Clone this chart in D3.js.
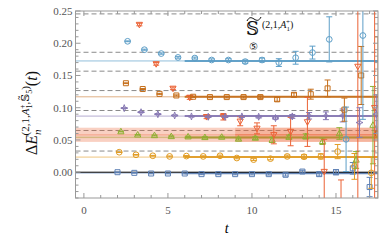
<!DOCTYPE html>
<meta charset="utf-8">
<head>
<style>
  body { margin: 0; background: #fff; }
  svg text { font-family: "Liberation Serif", "DejaVu Serif", serif; }
  .tick-label { fill: #555; font-size: 11px; }
</style>
</head>
<body>
<script src="https://d3js.org/d3.v7.min.js"></script>
<script>
// time slices (same for every series, each series gets a small horizontal offset)
var tSteps = [2, 3, 4, 5, 6, 7, 8, 9, 10, 11, 12, 13, 14, 15, 16, 17];

// level 0 : blue squares
var lvl0 = [0.000, -0.001, -0.002, -0.002, -0.002, -0.003, -0.003, -0.003, -0.003, -0.003, -0.004, 0.001, -0.003, 0.000, 0.006, -0.023];
var lvl0Err = [0.0003, 0.0004, 0.0005, 0.0006, 0.0007, 0.0008, 0.0009, 0.001, 0.0012, 0.0014, 0.002, 0.002, 0.003, 0.004, 0.009, 0.015];
// level 1 : orange circles
var lvl1 = [0.031, 0.027, 0.0255, 0.0245, 0.025, 0.0245, 0.0255, 0.022, 0.0195, 0.021, 0.0245, 0.024, 0.0245, 0.032, 0.009, -0.001];
var lvl1Err = [0.0004, 0.0005, 0.0006, 0.0007, 0.0008, 0.0009, 0.001, 0.0012, 0.0015, 0.0018, 0.002, 0.003, 0.004, 0.011, 0.02, 0.024];
// level 2 : green triangles
var lvl2 = [0.063, 0.058, 0.057, 0.0555, 0.055, 0.054, 0.0545, 0.0515, 0.053, 0.050, 0.0545, 0.0555, 0.048, 0.060, 0.019, 0.073];
var lvl2Err = [0.0005, 0.0006, 0.0007, 0.0008, 0.0009, 0.001, 0.0012, 0.0015, 0.002, 0.004, 0.003, 0.004, 0.005, 0.009, 0.013, 0.06];
// level 3 : red down-triangles (t = 2 is off the plot)
var lvl3 = [null, 0.229, 0.168, 0.130, 0.116, 0.086, 0.086, 0.079, 0.068, 0.058, 0.063, 0.078, 0.001, -0.060, 0.164, 0.100];
var lvl3Err = [null, 0.002, 0.002, 0.002, 0.003, 0.003, 0.005, 0.007, 0.0085, 0.014, 0.022, 0.038, 0.05, 0.048, 0.3, 0.3];
// level 4 : purple stars
var lvl4 = [0.0994, 0.093, 0.090, 0.088, 0.0865, 0.086, 0.086, 0.0865, 0.086, 0.084, 0.0865, 0.0875, 0.0875, 0.088, 0.077, 0.09];
var lvl4Err = [0.0005, 0.0006, 0.0007, 0.0008, 0.0009, 0.001, 0.0012, 0.0015, 0.002, 0.002, 0.003, 0.005, 0.006, 0.01, 0.023, 0.03];
// level 5 : dark orange squares
var lvl5 = [0.138, 0.129, 0.1215, 0.119, 0.117, 0.1165, 0.1165, 0.1165, 0.1165, 0.113, 0.120, 0.121, 0.130, 0.097, 0.150, 0.06];
var lvl5Err = [0.0006, 0.0007, 0.0008, 0.0009, 0.001, 0.0012, 0.0014, 0.0016, 0.002, 0.003, 0.003, 0.0077, 0.013, 0.018, 0.045, 0.15];
// level 6 : light blue circles (t = 17 falls outside the frame)
var lvl6 = [0.203, 0.190, 0.184, 0.178, 0.177, 0.174, 0.174, 0.1715, 0.174, 0.170, 0.1775, 0.1855, 0.206, 0.051, 0.212, null];
var lvl6Err = [0.0006, 0.0008, 0.001, 0.0012, 0.0015, 0.0018, 0.002, 0.0025, 0.003, 0.006, 0.01, 0.01, 0.035, 0.05, 0.13, null];

var levels = [lvl0, lvl1, lvl2, lvl3, lvl4, lvl5, lvl6];
var levelErrs = [lvl0Err, lvl1Err, lvl2Err, lvl3Err, lvl4Err, lvl5Err, lvl6Err];

// fitted energies
var fitCenter = [-0.0015, 0.0235, 0.054, 0.058, 0.087, 0.117, 0.1725];
var fitError = [0.0008, 0.001, 0.0015, 0.011, 0.0012, 0.0012, 0.0015];
var fitStart = [6, 6, 6, 9, 6, 6, 6];

// non-interacting levels (dashed)
var dashedLevels = [0.0328, 0.0647, 0.0957, 0.1266, 0.1567, 0.186, 0.2455];

var colors = ["#5E81B5", "#E19C24", "#8FB032", "#EB6235", "#8778B3", "#C56E1A", "#5D9EC7"];
var shapes = ["square", "circle", "triangle", "triangleDown", "star4", "square", "circle"];

var xTicks = [0, 5, 10, 15];
var yTicks = [0.00, 0.05, 0.10, 0.15, 0.20, 0.25];

var W = 390, H = 248;
var plot = { left: 75.5, right: 378, top: 11, bottom: 198 };

var x = d3.scaleLinear().domain([-0.5, 17.5]).range([plot.left, plot.right]);
var y = d3.scaleLinear().domain([-0.04, 0.25]).range([plot.bottom, plot.top]);

var svg = d3.select("body").append("svg")
    .attr("width", W)
    .attr("height", H);

svg.append("clipPath").attr("id", "clip")
  .append("rect")
    .attr("x", plot.left).attr("y", plot.top)
    .attr("width", plot.right - plot.left)
    .attr("height", plot.bottom - plot.top);

var g = svg.append("g").attr("clip-path", "url(#clip)");

// dashed reference levels
g.selectAll(".dash")
  .data(dashedLevels)
  .enter().append("line")
    .attr("x1", plot.left).attr("x2", plot.right)
    .attr("y1", function (d) { return y(d); })
    .attr("y2", function (d) { return y(d); })
    .attr("stroke", "#8a8a8a")
    .attr("stroke-width", 1)
    .attr("stroke-dasharray", "5,3");

// fit bands: faint over the whole range, stronger over the fit window
fitCenter.forEach(function (c, i) {
    var col = colors[i];
    var e = fitError[i];
    var x0 = x(fitStart[i]);
    g.append("rect")
        .attr("x", plot.left).attr("width", plot.right - plot.left)
        .attr("y", y(c + e)).attr("height", y(c - e) - y(c + e))
        .attr("fill", col).attr("opacity", i === 3 ? 0.3 : 0.15);
    g.append("line")
        .attr("x1", plot.left).attr("x2", plot.right)
        .attr("y1", y(c)).attr("y2", y(c))
        .attr("stroke", col).attr("stroke-width", 1.2).attr("opacity", 0.35);
    g.append("rect")
        .attr("x", x0).attr("width", plot.right - x0)
        .attr("y", y(c + e)).attr("height", y(c - e) - y(c + e))
        .attr("fill", col).attr("opacity", i === 3 ? 0.25 : 0.3);
    g.append("line")
        .attr("x1", x0).attr("x2", plot.right)
        .attr("y1", y(c)).attr("y2", y(c))
        .attr("stroke", col).attr("stroke-width", i === 3 ? 1 : 2)
        .attr("opacity", i === 3 ? 0.5 : 0.9);
});

// zero line
g.append("line")
    .attr("x1", plot.left).attr("x2", plot.right)
    .attr("y1", y(0)).attr("y2", y(0))
    .attr("stroke", "#000").attr("stroke-width", 1);

function markerPath(shape) {
    if (shape === "square") return "M-2.5,-2.5H2.5V2.5H-2.5Z";
    if (shape === "circle") return d3.symbol(d3.symbolCircle, 26)();
    if (shape === "triangle") return "M0,-3.3L3.1,2.2H-3.1Z";
    if (shape === "triangleDown") return "M0,3.3L3.1,-2.2H-3.1Z";
    // four pointed star
    return "M0,-3.5L0.9,-0.9L3.5,0L0.9,0.9L0,3.5L-0.9,0.9L-3.5,0L-0.9,-0.9Z";
}

// data points with error bars
levels.forEach(function (vals, i) {
    var pts = tSteps.map(function (t, k) {
        return { t: t + 0.1 * i, v: vals[k], e: levelErrs[i][k] };
    }).filter(function (d) { return d.v !== null; });

    var sg = g.append("g")
        .attr("stroke", colors[i])
        .attr("fill", "none")
        .attr("stroke-width", 1);

    var p = sg.selectAll("g").data(pts).enter().append("g");

    p.append("path")
        .attr("d", markerPath(shapes[i]))
        .attr("transform", function (d) { return "translate(" + x(d.t) + "," + y(d.v) + ")"; });
    p.append("line")
        .attr("x1", function (d) { return x(d.t); })
        .attr("x2", function (d) { return x(d.t); })
        .attr("y1", function (d) { return y(d.v + d.e); })
        .attr("y2", function (d) { return y(d.v - d.e); });
    p.append("line")
        .attr("x1", function (d) { return x(d.t) - 3; })
        .attr("x2", function (d) { return x(d.t) + 3; })
        .attr("y1", function (d) { return y(d.v + d.e); })
        .attr("y2", function (d) { return y(d.v + d.e); });
    p.append("line")
        .attr("x1", function (d) { return x(d.t) - 3; })
        .attr("x2", function (d) { return x(d.t) + 3; })
        .attr("y1", function (d) { return y(d.v - d.e); })
        .attr("y2", function (d) { return y(d.v - d.e); });
});

// frame with inward ticks
var frame = svg.append("g").attr("stroke", "#999").attr("fill", "none");
frame.append("rect")
    .attr("x", plot.left).attr("y", plot.top)
    .attr("width", plot.right - plot.left).attr("height", plot.bottom - plot.top)
    .attr("stroke-width", 1);

var yMinor = d3.range(-0.04, 0.2501, 0.01);
yMinor.forEach(function (v) {
    var major = Math.abs(Math.round(v * 100) % 5) === 0;
    var len = major ? 5 : 3;
    frame.append("line").attr("x1", plot.left).attr("x2", plot.left + len)
        .attr("y1", y(v)).attr("y2", y(v));
    frame.append("line").attr("x1", plot.right).attr("x2", plot.right - len)
        .attr("y1", y(v)).attr("y2", y(v));
});
d3.range(0, 18).forEach(function (t) {
    var len = t % 5 === 0 ? 5 : 3;
    frame.append("line").attr("x1", x(t)).attr("x2", x(t))
        .attr("y1", plot.bottom).attr("y2", plot.bottom - len);
    frame.append("line").attr("x1", x(t)).attr("x2", x(t))
        .attr("y1", plot.top).attr("y2", plot.top + len);
});

// tick labels
svg.selectAll(".ylab").data(yTicks).enter().append("text")
    .attr("class", "tick-label")
    .attr("x", plot.left - 3)
    .attr("y", function (d) { return y(d) + 4; })
    .attr("text-anchor", "end")
    .text(function (d) { return d3.format(".2f")(d); });

svg.selectAll(".xlab").data(xTicks).enter().append("text")
    .attr("class", "tick-label")
    .attr("x", function (d) { return x(d); })
    .attr("y", 214)
    .attr("text-anchor", "middle")
    .text(function (d) { return d; });

// axis titles
svg.append("text")
    .attr("x", (plot.left + plot.right) / 2)
    .attr("y", 233)
    .attr("text-anchor", "middle")
    .attr("font-size", 14)
    .attr("font-style", "italic")
    .text("t");

function addPieces(txt, pieces) {
    pieces.forEach(function (p) {
        var s = txt.append("tspan").text(p[0]).attr("font-size", p[1]);
        if (p[2]) s.attr("dx", p[2]);
        if (p[3]) s.attr("dy", p[3]);
        if (p[4]) s.attr("font-style", "italic");
    });
}

var ylab = svg.append("text")
    .attr("transform", "translate(37,113) rotate(-90)")
    .attr("text-anchor", "middle")
    .attr("fill", "#111");
addPieces(ylab, [
    ["\u0394", 16, 0, 0, false],
    ["E", 16, 0, 0, true],
    ["n", 11, 0, 4, true],
    ["(2,1,", 11, -6, -12, false],
    ["A", 11, 0, 0, true],
    ["1", 8, 0, 3, false],
    ["+", 8, -4.5, -7, false],
    [",", 11, 0, 4, false],
    ["\uD835\uDD4A\u0303", 11, 0, 0, false],
    ["5", 8, 0, 3, false],
    [")", 11, 0, -3, false],
    ["(", 16, 0, 8, false],
    ["t", 16, 0, 0, true],
    [")", 16, 0, 0, false]
]);

// operator annotation
svg.append("path")
    .attr("d", "M247,21 C249,17 251,17 254,19 C257,21 259,21 261,17")
    .attr("fill", "none").attr("stroke", "#111").attr("stroke-width", 1);
svg.append("text")
    .attr("x", 246).attr("y", 35)
    .attr("font-size", 18).attr("fill", "#111")
    .text("\uD835\uDD4A");
var sup = svg.append("text")
    .attr("x", 262).attr("y", 28)
    .attr("fill", "#111");
addPieces(sup, [
    ["(2,1,", 10, 0, 0, false],
    ["A", 10, 0, 0, true],
    ["1", 7, 0, 3, false],
    ["+", 7, -4, -7, false],
    [")", 10, 0, 4, false]
]);
svg.append("text")
    .attr("x", 249).attr("y", 50)
    .attr("font-size", 10).attr("fill", "#111")
    .text("\u2464");
</script>
</body>
